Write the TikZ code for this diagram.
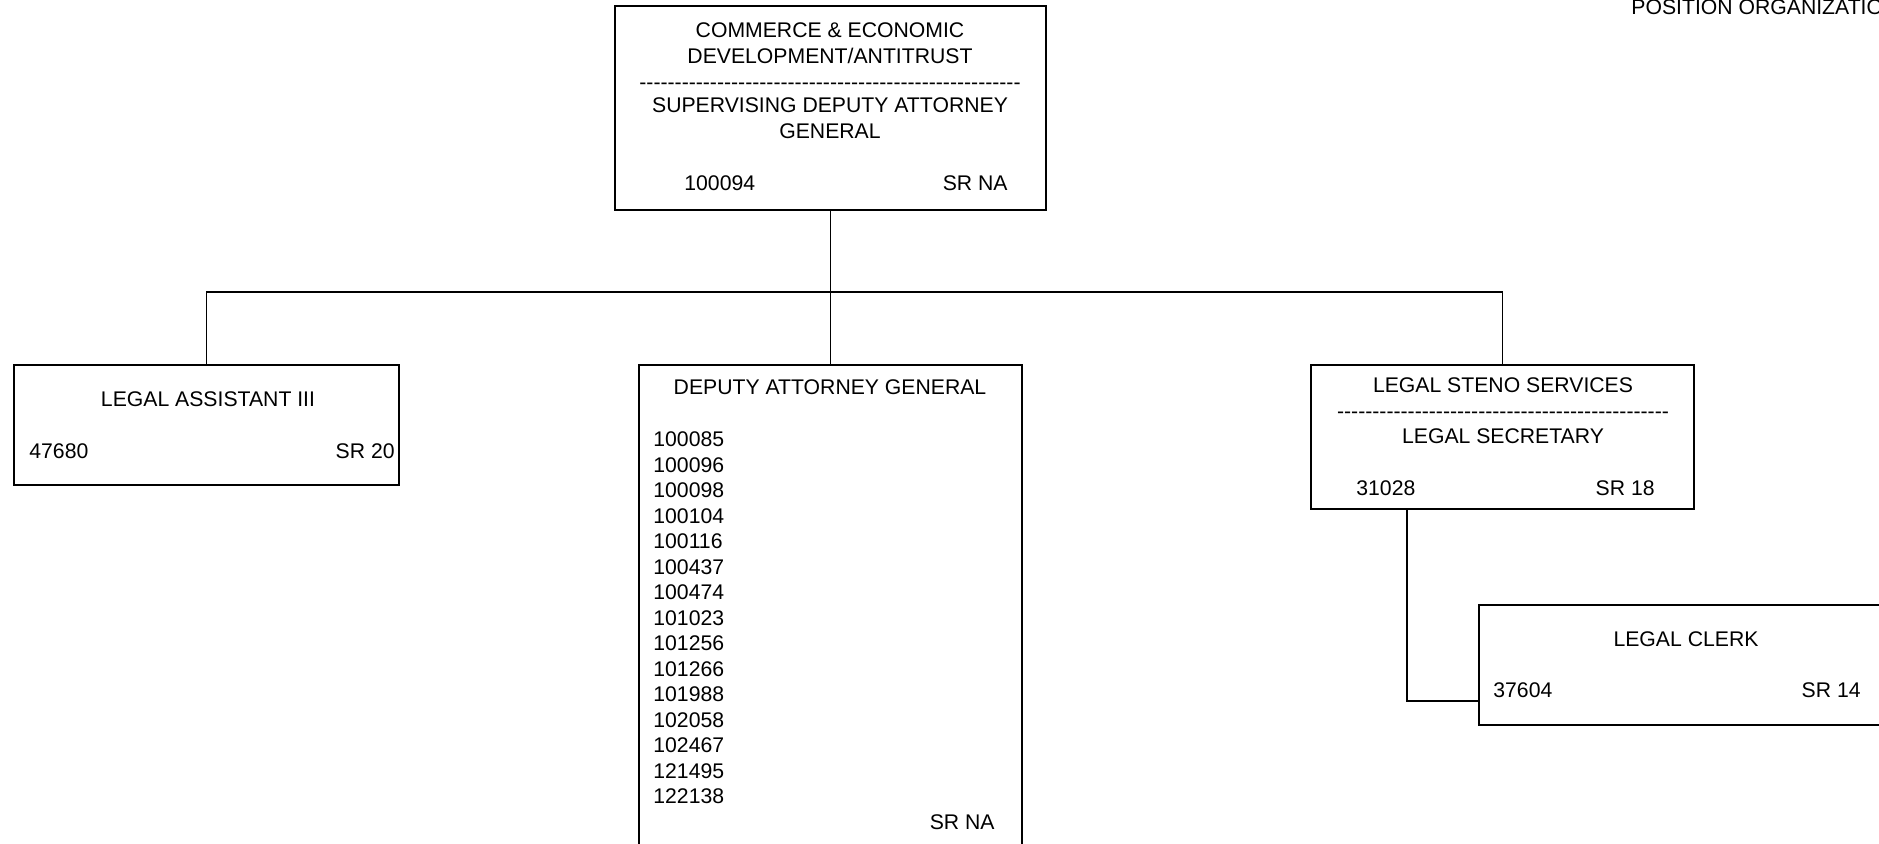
\documentclass[tikz,border=0pt]{standalone}
\usepackage{fontspec}
\setmainfont{Liberation Sans}
\ExplSyntaxOn
\cs_new:Npn \hyrow #1 { \prg_replicate:nn {#1} {-{}} }
\ExplSyntaxOff
\begin{document}
\begin{tikzpicture}[x=0.5pt,y=-0.5pt,
  box/.style={draw=black,line width=0.9pt,inner sep=0pt,fill=none},
  txt/.style={inner sep=0pt,font=\fontsize{10.6pt}{12.75pt}\selectfont,anchor=base},
  ltxt/.style={txt,anchor=base west},
  rtxt/.style={txt,anchor=base east},
  conn/.style={draw=black,line width=0.9pt}]
\useasboundingbox (0,0) rectangle (1879,843);
\clip (0,0) rectangle (1879,843);
% header
\node[ltxt] (hdr) at (1631,14) {POSITION ORGANIZATION CHART};
% boxes
\node[box,minimum width=215.5pt,minimum height=102pt] (top) at (830.5,108) {};
\node[box,minimum width=192.5pt,minimum height=60pt] (la) at (206.5,425) {};
\node[box,minimum width=191.5pt,minimum height=267.5pt] (dag) at (830.5,632.5) {};
\node[box,minimum width=191.5pt,minimum height=72pt] (steno) at (1502.5,437) {};
\node[box,minimum width=207pt,minimum height=60pt] (clerk) at (1686,665) {};
% connectors
\coordinate (bus) at (0,292);
\coordinate (sc) at (1407,701);
\draw[conn] (top.south) -- (dag.north);
\draw[conn] (la.north) -- (la.north |- bus) -- (steno.north |- bus) -- (steno.north);
\draw[conn] (steno.south -| sc) -- (sc) -- (clerk.west |- sc);
% top box text
\node[txt] (t1) at (830,37.5) {COMMERCE \& ECONOMIC};
\node[txt] (t2) at (830,63) {DEVELOPMENT/ANTITRUST};
\node[txt] (t3) at (830,89.5) {\hyrow{54}};
\node[txt] (t4) at (830,112.5) {SUPERVISING DEPUTY ATTORNEY};
\node[txt] (t5) at (830,138.5) {GENERAL};
\node[ltxt] (t6) at (684,190.5) {100094};
\node[rtxt] (t7) at (1008,190.5) {SR NA};
% legal assistant
\node[txt] (l1) at (208,406.5) {LEGAL ASSISTANT III};
\node[ltxt] (l2) at (29,458.5) {47680};
\node[rtxt] (l3) at (395,458.5) {SR 20};
% deputy attorney general
\node[txt] (d0) at (830,394.5) {DEPUTY ATTORNEY GENERAL};
\foreach \n [count=\i from 0] in {100085,100096,100098,100104,100116,100437,100474,101023,101256,101266,101988,102058,102467,121495,122138}{
  \node[ltxt] (dn\i) at (653,446.5+25.5*\i) {\n};
}
\node[rtxt] (dsr) at (995,829.5) {SR NA};
% legal steno
\node[txt] (s1) at (1503,392.5) {LEGAL STENO SERVICES};
\node[txt] (s2) at (1503,418.5) {\hyrow{47}};
\node[txt] (s3) at (1503,443.5) {LEGAL SECRETARY};
\node[ltxt] (s4) at (1356,495.5) {31028};
\node[rtxt] (s5) at (1655,495.5) {SR 18};
% legal clerk
\node[txt] (c1) at (1686,646.5) {LEGAL CLERK};
\node[ltxt] (c2) at (1493,697.5) {37604};
\node[rtxt] (c3) at (1861,697.5) {SR 14};
\end{tikzpicture}
\end{document}
